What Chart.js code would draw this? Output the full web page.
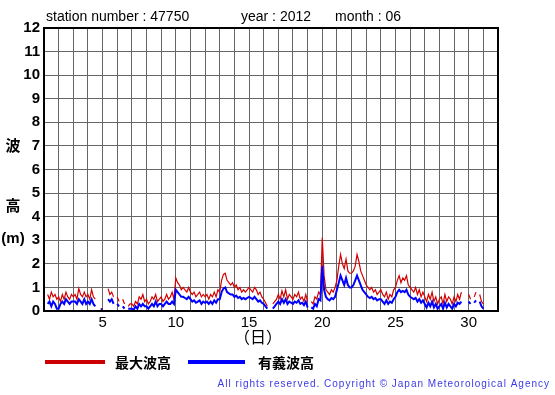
<!DOCTYPE html>
<html>
<head>
<meta charset="utf-8"/>
<title>47750 wave height 2012-06</title>
<script src="https://cdn.jsdelivr.net/npm/chart.js@4.4.1/dist/chart.umd.min.js"></script>
<style>
  body { margin: 0; background: #fff; }
</style>
</head>
<body>
<canvas id="waveChart" width="555" height="395"></canvas>
<script>
// 3-hourly readings, 8 per day starting June 1 00:00 (last entry = July 1 00:00)
const maxWave = [
  null, null, 0.7, 0.5, 0.8, 0.6, 0.7, 0.5,
  0.6, 0.4, 0.7, 0.5, 0.8, 0.6, 0.5, 0.7,
  0.6, 0.7, 0.5, 0.95, 0.7, 0.6, 0.8, 0.6,
  0.7, 0.5, 0.9, 0.6, 0.5, null, null, 0.1,
  0.1, null, null, 0.95, 0.7, 0.8, 0.6, null,
  0.6, 0.4, null, 0.5, 0.3, null, 0.2, 0.3,
  0.3, 0.2, 0.4, 0.3, 0.6, 0.5, 0.7, 0.4,
  0.5, 0.3, 0.4, 0.6, 0.5, 0.7, 0.4, 0.5,
  0.6, 0.4, 0.5, 0.7, 0.5, 0.6, 0.8, 0.5,
  1.4, 1.2, 1.1, 0.9, 1.0, 0.9, 0.8, 1.0,
  0.8, 0.7, 0.8, 0.6, 0.7, 0.8, 0.6, 0.7,
  0.6, 0.7, 0.5, 0.7, 0.6, 0.8, 0.6, 0.9,
  0.8, 1.3, 1.55, 1.6, 1.3, 1.2, 1.1, 1.2,
  1.0, 1.1, 0.9, 1.0, 0.8, 0.9, 0.8, 0.9,
  1.0, 0.9, 0.8, 1.0, 0.9, 0.7, 0.8, 0.6,
  0.5, 0.35, 0.2, null, null, 0.3, 0.4, 0.5,
  0.7, 0.5, 0.85, 0.6, 0.9, 0.5, 0.7, 0.6,
  0.5, 0.7, 0.6, 0.8, 0.5, 0.6, 0.4, 0.7,
  0.4, null, 0.4, 0.3, 0.6, 0.5, 0.8, 0.7,
  3.1, 1.5, 0.9, 0.8, 0.7, 0.9, 0.8, 1.0,
  1.3, 1.9, 2.4, 2.0, 1.8, 2.2, 1.7, 1.6,
  1.6, 1.7, 1.9, 2.4, 2.1, 1.7, 1.5, 1.3,
  1.1, 1.0, 0.9, 1.0, 0.8, 0.9, 0.7, 0.8,
  0.9, 0.7, 0.6, 0.8, 0.5, 0.7, 0.6, 0.9,
  1.0, 1.3, 1.5, 1.2, 1.4, 1.3, 1.5, 1.1,
  1.0, 0.9, 0.8, 1.0, 0.7, 0.9, 0.6, 0.8,
  0.6, 0.4, 0.7, 0.5, 0.8, 0.4, 0.6, 0.3,
  0.5, 0.6, 0.3, 0.7, 0.4, 0.6, 0.5, 0.3,
  0.6, 0.4, 0.7, 0.5, 0.8, null, null, null,
  0.7, 0.5, null, 0.6, 0.8, null, 0.7, 0.4,
  0.3
];
const sigWave = [
  null, null, 0.3, 0.4, 0.2, 0.4, 0.3, 0.1,
  0.1, 0.3, 0.4, 0.3, 0.5, 0.4, 0.3, 0.4,
  0.4, 0.4, 0.3, 0.5, 0.4, 0.3, 0.5, 0.3,
  0.4, 0.3, 0.5, 0.3, 0.2, null, null, 0.05,
  0.05, null, null, 0.5, 0.4, 0.5, 0.3, null,
  0.3, 0.2, null, 0.2, 0.1, null, 0.1, 0.1,
  0.1, 0.05, 0.2, 0.1, 0.3, 0.2, 0.3, 0.2,
  0.2, 0.1, 0.2, 0.3, 0.2, 0.4, 0.2, 0.3,
  0.3, 0.2, 0.3, 0.4, 0.3, 0.3, 0.4, 0.3,
  0.9, 0.8, 0.7, 0.6, 0.6, 0.55, 0.5, 0.6,
  0.5, 0.4, 0.45, 0.35, 0.4, 0.45, 0.3, 0.4,
  0.35, 0.4, 0.3, 0.4, 0.3, 0.45, 0.35, 0.5,
  0.5, 0.8, 0.95, 1.0, 0.8, 0.75, 0.7, 0.7,
  0.6, 0.65, 0.55, 0.6, 0.5, 0.55, 0.5, 0.55,
  0.6, 0.55, 0.5, 0.6, 0.5, 0.4, 0.45, 0.35,
  0.3, 0.2, 0.1, null, null, 0.1, 0.2, 0.3,
  0.4, 0.3, 0.5, 0.35, 0.5, 0.3, 0.4, 0.35,
  0.3, 0.4, 0.35, 0.45, 0.3, 0.35, 0.25, 0.4,
  0.15, null, 0.15, 0.1, 0.3, 0.2, 0.5, 0.45,
  1.9, 0.9, 0.6, 0.5, 0.45, 0.55, 0.5, 0.6,
  0.9, 1.2, 1.5, 1.3, 1.1, 1.4, 1.1, 1.0,
  1.0, 1.1, 1.3, 1.5, 1.3, 1.1, 0.9, 0.8,
  0.7, 0.6, 0.55, 0.6, 0.5, 0.55, 0.45, 0.5,
  0.5, 0.4, 0.3, 0.45, 0.3, 0.4, 0.35, 0.5,
  0.6, 0.8, 0.9, 0.8, 0.85, 0.8, 0.9, 0.7,
  0.6, 0.55, 0.5, 0.55, 0.4, 0.5, 0.35, 0.45,
  0.3, 0.15, 0.35, 0.2, 0.4, 0.15, 0.3, 0.1,
  0.2, 0.3, 0.1, 0.35, 0.15, 0.3, 0.2, 0.1,
  0.3, 0.2, 0.35, 0.3, 0.4, null, null, null,
  0.4, 0.3, null, 0.35, 0.45, null, 0.4, 0.2,
  0.1
];
const perDay = 8;
const firstDay = 1;
const xMin = 1, xMax = 32;
const yMin = 0, yMax = 12;
const labelEvery = 5;

const titleParts = ['station number : 47750', 'year : 2012', 'month : 06'];
const yTitle = ['波', '高', '(m)'];
const xTitle = '（日）';
const legendNames = ['最大波高', '有義波高'];
const copyright = 'All rights reserved. Copyright © Japan Meteorological Agency';

function toPoints(arr) {
  return arr.map((v, i) => ({ x: firstDay + i / perDay, y: v }));
}

const decor = {
  id: 'decor',
  afterDatasetsDraw(chart) {
    const { ctx, chartArea: a } = chart;
    ctx.save();
    ctx.strokeStyle = '#000';
    ctx.lineWidth = 2;
    ctx.strokeRect(a.left, a.top, a.right - a.left, a.bottom - a.top);
    ctx.restore();
  },
  afterDraw(chart) {
    const { ctx } = chart;
    ctx.save();
    ctx.fillStyle = '#000';
    ctx.textBaseline = 'alphabetic';
    ctx.font = '14px "Liberation Sans", Arial, sans-serif';
    ctx.fillText(titleParts[0], 46, 21);
    ctx.fillText(titleParts[1], 241, 21);
    ctx.fillText(titleParts[2], 335, 21);

    ctx.textAlign = 'center';
    ctx.textBaseline = 'middle';
    ctx.font = 'bold 15px "Noto Sans CJK JP", sans-serif';
    ctx.fillText(yTitle[0], 13, 145);
    ctx.fillText(yTitle[1], 13, 205);
    ctx.font = 'bold 15px "Liberation Sans", Arial, sans-serif';
    ctx.fillText(yTitle[2], 13, 239);
    ctx.font = '16px "Noto Sans CJK JP", sans-serif';
    ctx.fillText(xTitle, 258, 337);

    // legend
    ctx.lineWidth = 4;
    ctx.strokeStyle = '#cc0000';
    ctx.beginPath(); ctx.moveTo(45, 362); ctx.lineTo(105, 362); ctx.stroke();
    ctx.strokeStyle = '#0000ff';
    ctx.beginPath(); ctx.moveTo(188, 362); ctx.lineTo(245, 362); ctx.stroke();
    ctx.textAlign = 'left';
    ctx.font = 'bold 14px "Noto Sans CJK JP", sans-serif';
    ctx.fillText(legendNames[0], 115, 363);
    ctx.fillText(legendNames[1], 258, 363);

    ctx.textAlign = 'right';
    ctx.fillStyle = '#3a3ae8';
    ctx.font = '10px "Liberation Sans", Arial, sans-serif';
    ctx.letterSpacing = '1px';
    ctx.fillText(copyright, 550, 384);
    ctx.restore();
  }
};

new Chart(document.getElementById('waveChart'), {
  type: 'line',
  data: {
    datasets: [{
      label: legendNames[1],
      data: toPoints(sigWave),
      borderColor: '#0000ff',
      borderWidth: 2,
      order: 0
    }, {
      label: legendNames[0],
      data: toPoints(maxWave),
      borderColor: '#d40000',
      borderWidth: 1.2,
      order: 1
    }]
  },
  options: {
    responsive: false,
    animation: false,
    spanGaps: false,
    elements: { point: { radius: 0 }, line: { tension: 0 } },
    layout: { padding: { left: 0, top: 28, right: 57, bottom: 0 } },
    plugins: { legend: { display: false }, tooltip: { enabled: false } },
    scales: {
      x: {
        type: 'linear',
        min: xMin, max: xMax,
        afterFit(s) { s.height = 84; },
        grid: { color: '#666', lineWidth: 1, drawTicks: false },
        border: { display: false },
        ticks: {
          stepSize: 1, autoSkip: false, maxRotation: 0, padding: 3,
          color: '#000',
          font: { family: '"Liberation Sans", Arial, sans-serif', size: 15 },
          callback: v => (v % labelEvery === 0 ? String(v) : '')
        }
      },
      y: {
        min: yMin, max: yMax,
        afterFit(s) { s.width = 44; },
        grid: { color: '#666', lineWidth: 1, drawTicks: false },
        border: { display: false },
        ticks: {
          stepSize: 1, padding: 4, color: '#000',
          font: { family: '"Liberation Sans", Arial, sans-serif', size: 15, weight: 'bold' }
        }
      }
    }
  },
  plugins: [decor]
});
</script>
</body>
</html>
